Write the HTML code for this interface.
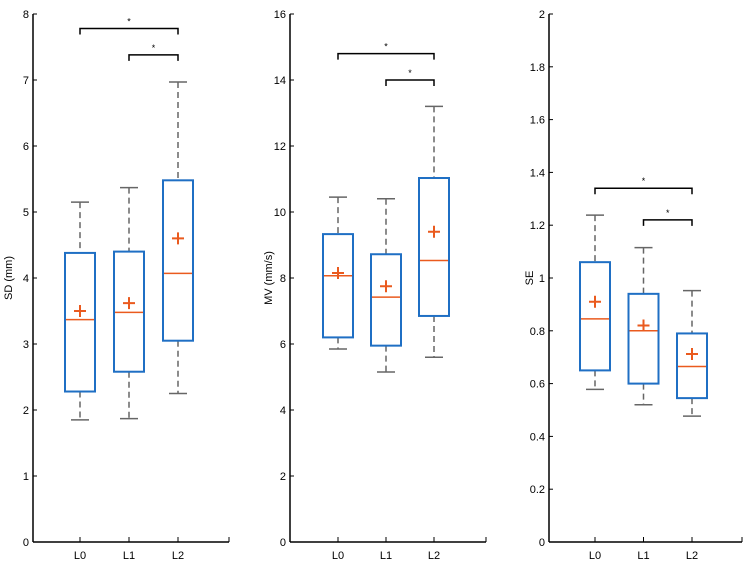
<!DOCTYPE html><html><head><meta charset="utf-8"><style>body{margin:0;background:#fff}svg{display:block}text{font-family:"Liberation Sans",sans-serif;font-size:11px;fill:#000}</style></head><body>
<svg id="s" width="744" height="568" xmlns="http://www.w3.org/2000/svg"></svg>
<script>
const s=document.getElementById('s');let h='';
const Y0=542;
const panels=[
{ax:33,end:229,cx:[80,129,178],max:8,step:1,dec:0,label:'SD (mm)',lx:12,
 d:[[1.85,2.28,3.37,4.38,5.15,3.5],[1.87,2.58,3.48,4.4,5.37,3.62],[2.25,3.05,4.07,5.48,6.97,4.6]],br:[7.78,7.38]},
{ax:290,end:486,cx:[338,386,434],max:16,step:2,dec:0,label:'MV (mm/s)',lx:272,
 d:[[5.85,6.2,8.07,9.33,10.45,8.15],[5.15,5.95,7.42,8.72,10.4,7.75],[5.6,6.85,8.53,11.03,13.2,9.4]],br:[14.8,14.0]},
{ax:549,end:742,cx:[595,643.5,692],max:2,step:0.2,dec:1,label:'SE',lx:533,
 d:[[0.578,0.65,0.845,1.06,1.238,0.91],[0.52,0.6,0.8,0.94,1.115,0.82],[0.477,0.545,0.665,0.79,0.952,0.712]],br:[1.34,1.22]}];
panels.forEach(p=>{
 const y=v=>Y0-v*(Y0-14)/p.max;
 h+=`<line x1="${p.ax}" y1="14" x2="${p.ax}" y2="${Y0}" stroke="#000" stroke-width="1.5"/>`;
 h+=`<line x1="${p.ax}" y1="${Y0}" x2="${p.end}" y2="${Y0}" stroke="#000" stroke-width="1.5"/>`;
 h+=`<line x1="${p.end}" y1="${Y0}" x2="${p.end}" y2="${Y0-5}" stroke="#000"/>`;
 for(let v=0;v<=p.max+1e-9;v+=p.step){const yy=y(v);
  h+=`<line x1="${p.ax}" y1="${yy}" x2="${p.ax+4}" y2="${yy}" stroke="#000"/>`;
  let t=p.dec?(+v.toFixed(1)).toString():v.toString();
  h+=`<text x="${p.ax-4}" y="${yy+4}" text-anchor="end">${t}</text>`;}
 h+=`<text transform="translate(${p.lx},${(Y0+14)/2}) rotate(-90)" text-anchor="middle">${p.label}</text>`;
 p.cx.forEach((c,i)=>{
  h+=`<line x1="${c}" y1="${Y0}" x2="${c}" y2="${Y0-5}" stroke="#000"/>`;
  h+=`<text x="${c}" y="${Y0+17}" text-anchor="middle">L${i}</text>`;
  const [lo,q1,md,q3,hi,mn]=p.d[i];
  h+=`<line x1="${c}" y1="${y(hi)}" x2="${c}" y2="${y(q3)}" stroke="#666" stroke-width="1.5" stroke-dasharray="6,4"/>`;
  h+=`<line x1="${c}" y1="${y(q1)}" x2="${c}" y2="${y(lo)}" stroke="#666" stroke-width="1.5" stroke-dasharray="6,4"/>`;
  h+=`<line x1="${c-9}" y1="${y(hi)}" x2="${c+9}" y2="${y(hi)}" stroke="#666" stroke-width="1.5"/>`;
  h+=`<line x1="${c-9}" y1="${y(lo)}" x2="${c+9}" y2="${y(lo)}" stroke="#666" stroke-width="1.5"/>`;
  h+=`<rect x="${c-15}" y="${y(q3)}" width="30" height="${y(q1)-y(q3)}" fill="none" stroke="#1f6fc4" stroke-width="2"/>`;
  h+=`<line x1="${c-14}" y1="${y(md)}" x2="${c+14}" y2="${y(md)}" stroke="#ea5a1e" stroke-width="1.5"/>`;
  const m=y(mn);
  h+=`<path d="M${c-6} ${m}H${c+6}M${c} ${m-6}V${m+6}" stroke="#ea5a1e" stroke-width="2"/>`;
 });
 [[0,2],[1,2]].forEach((b,k)=>{const yy=y(p.br[k]);const a=p.cx[b[0]],e=p.cx[b[1]];
  h+=`<path d="M${a} ${yy+6}V${yy}H${e}V${yy+6}" fill="none" stroke="#000" stroke-width="1.5"/>`;
  h+=`<text x="${(a+e)/2}" y="${yy-4}" text-anchor="middle" style="font-size:9px">*</text>`;});
});
s.innerHTML=h;
</script></body></html>
